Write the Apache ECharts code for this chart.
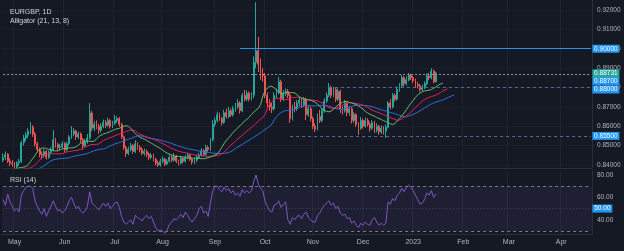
<!DOCTYPE html>
<html><head><meta charset="utf-8">
<script src="https://cdn.jsdelivr.net/npm/echarts@6/dist/echarts.min.js"></script>
<style>html,body{margin:0;padding:0;background:#151924;}#c{width:624px;height:251px;}</style>
</head><body><div id="c"></div>
<script>
// ---- data (prices in 1/10000 units) ----
const startDate = '2022-04-25';
const totalBars = 259;
const firstOpen = 8425;
const close = [8440,8455,8420,8410,8405,8390,8410,8420,8515,8540,
8555,8575,8595,8560,8510,8480,8455,8450,8470,8440,
8465,8480,8530,8505,8490,8495,8510,8480,8510,8545,
8560,8575,8545,8560,8530,8500,8520,8540,8668,8590,
8610,8600,8580,8600,8620,8605,8630,8600,8615,8630,
8640,8610,8545,8490,8460,8480,8500,8470,8510,8490,
8480,8460,8470,8455,8440,8450,8430,8410,8400,8420,
8430,8405,8420,8440,8425,8445,8420,8410,8435,8420,
8440,8450,8430,8415,8425,8440,8450,8475,8455,8490,
8480,8530,8610,8630,8660,8640,8620,8670,8650,8680,
8660,8690,8700,8720,8680,8760,8740,8770,8740,8760,
8930,8990,8920,8870,8860,8760,8720,8700,8690,8760,
8775,8830,8740,8770,8780,8760,8640,8700,8690,8720,
8735,8710,8740,8660,8690,8640,8600,8585,8650,8630,
8680,8730,8760,8800,8760,8790,8740,8780,8690,8680,
8720,8670,8690,8630,8660,8610,8590,8630,8600,8630,
8610,8590,8620,8580,8600,8570,8590,8575,8595,8720,
8700,8760,8740,8790,8810,8850,8820,8840,8865,8850,
8835,8815,8810,8790,8800,8820,8860,8850,8885,8830,
8873.1];
const high = [8460,8470,8462,8435,8425,8415,8420,8432,8525,8555,
8570,8590,8622,8605,8570,8520,8490,8470,8482,8478,
8475,8492,8580,8540,8515,8510,8522,8518,8520,8555,
8601,8590,8582,8572,8568,8540,8535,8560,8720,8680,
8625,8630,8612,8615,8635,8632,8645,8638,8628,8658,
8652,8648,8618,8552,8500,8495,8515,8508,8528,8518,
8502,8492,8485,8480,8465,8462,8458,8438,8422,8432,
8445,8438,8430,8455,8450,8462,8452,8428,8445,8442,
8452,8462,8458,8438,8435,8450,8462,8488,8482,8505,
8502,8540,8632,8645,8675,8670,8650,8685,8690,8700,
8692,8705,8720,8740,8730,8772,8787,8785,8780,8775,
8960,9240,9060,8950,8900,8875,8775,8740,8720,8775,
8795,8855,8840,8787,8795,8792,8770,8712,8725,8735,
8751,8745,8752,8748,8705,8700,8650,8615,8665,8684,
8692,8745,8775,8823,8810,8803,8798,8795,8788,8705,
8735,8728,8702,8698,8672,8668,8622,8648,8640,8645,
8642,8620,8632,8628,8615,8608,8605,8600,8610,8730,
8740,8772,8770,8805,8823,8865,8860,8858,8875,8872,
8860,8845,8830,8818,8815,8832,8872,8875,8900,8892,
8882];
const low = [8415,8425,8410,8395,8392,8382,8385,8398,8410,8500,
8525,8540,8560,8545,8495,8465,8440,8430,8438,8428,
8432,8455,8470,8490,8475,8478,8485,8465,8470,8500,
8535,8548,8530,8535,8515,8478,8490,8510,8530,8575,
8575,8585,8560,8568,8590,8592,8598,8588,8590,8605,
8618,8598,8535,8478,8441,8450,8470,8458,8462,8478,
8465,8450,8448,8440,8425,8430,8418,8398,8390,8392,
8410,8395,8398,8412,8415,8418,8410,8398,8402,8408,
8412,8430,8420,8402,8405,8415,8432,8442,8445,8448,
8470,8472,8522,8598,8620,8628,8605,8612,8640,8642,
8648,8650,8675,8690,8665,8672,8728,8730,8728,8732,
8745,8900,8880,8840,8830,8745,8700,8680,8668,8680,
8745,8765,8725,8730,8755,8745,8617,8630,8672,8680,
8705,8695,8700,8632,8648,8625,8585,8570,8578,8617,
8620,8670,8720,8750,8745,8750,8725,8730,8668,8660,
8670,8652,8655,8615,8618,8596,8555,8582,8588,8592,
8598,8572,8580,8565,8568,8555,8560,8558,8540,8588,
8688,8692,8728,8732,8778,8800,8805,8810,8832,8838,
8822,8800,8795,8778,8782,8792,8812,8838,8842,8822,
8825];
// off-screen bars before the visible range (used only to warm up the Alligator)
const warmupMedian = [8400,8430,8460,8450,8420,8380,8355,8350,8345,8350,8355,8335,8305,8290,8290,8300,8305,8320,8340,8400];
const rsi = [58,53,63,56,52,48,50,47,62,66,
69,70,70,68,57,52,48,45,50,43,
48,52,57,52,48,49,46,48,52,57,
60,55,50,52,48,46,48,52,65,55,
53,51,49,52,55,52,55,50,52,55,
56,51,43,38,36,38,40,36,44,42,
41,39,42,44,41,43,38,33,30,31,
30,28,31,36,38,41,40,42,45,42,
47,44,40,38,41,44,50,52,46,48,
43,55,66,70,70,67,65,69,66,68,
64,66,62,64,61,67,64,66,64,66,
74,80,72,68,66,56,52,48,47,53,
54,57,51,54,56,40,36,42,40,43,
44,41,45,47,42,40,38,38,44,46,
50,53,55,57,53,55,50,52,46,44,
45,41,42,37,39,35,33,37,35,38,
36,35,40,42,38,35,37,35,37,56,
54,59,57,62,64,68,65,69,71,69,
66,62,58,54,55,58,64,62,66,60,
63];
const priceTicks = [0.84,0.85,0.86,0.87,0.88,0.89,0.90,0.91,0.92];
const rsiTicks = [40,60,80];
const monthNames = ['Jan','Feb','Mar','Apr','May','Jun','Jul','Aug','Sep','Oct','Nov','Dec'];
const lastPrice = 0.88731;
// horizontal levels: [value, first bar index]
const levelSolid = [0.90, 104];
const levelDotted = [0.887, 0];
const levelDashed = [[0.88, 143], [0.855, 126]];

// ---- build ----
const cats = [];
{ const d = new Date(startDate + 'T00:00:00Z');
  while (cats.length < totalBars) { const wd = d.getUTCDay(); if (wd !== 0 && wd !== 6) cats.push(d.toISOString().slice(0,10)); d.setUTCDate(d.getUTCDate()+1); } }
const isMonthStart = i => i > 0 && cats[i].slice(5,7) !== cats[i-1].slice(5,7);
const monthLabel = i => { const m = +cats[i].slice(5,7); return m === 1 ? cats[i].slice(0,4) : monthNames[m-1]; };

const candles = close.map((c, i) => {
  const o = i === 0 ? firstOpen : close[i-1];
  return [o/1e4, c/1e4, low[i]/1e4, high[i]/1e4];
});
const median = warmupMedian.concat(close.map((c,i) => (high[i]+low[i])/2)).map(v => v/1e4);
function smma(src, len) {
  const out = []; let prev = null;
  for (let i = 0; i < src.length; i++) {
    if (i < len - 1) { out.push(null); continue; }
    if (prev === null) { let s = 0; for (let k = i-len+1; k <= i; k++) s += src[k]; prev = s/len; }
    else prev = (prev*(len-1) + src[i]) / len;
    out.push(prev);
  }
  return out;
}
const W = warmupMedian.length;
function alligator(len, shift) {
  const s = smma(median, len); const out = [];
  for (let i = 0; i < close.length + shift; i++) {
    const k = W + i - shift; const v = s[k];
    out.push(v == null ? '-' : v);
  }
  return out;
}
const jaw = alligator(21, 8), teeth = alligator(13, 5), lips = alligator(8, 3);

const FONT = 'Liberation Sans';
const axisTxt = '#b2b5be';
const last = cats[totalBars-1];
const hline = (v, from, style) => [{coord: [cats[from], v], lineStyle: style, label: {show: false}}, {coord: [last, v]}];
const tag = (v, txt, bg, w, dy) => ({coord: [last, v], symbol: 'rect', symbolSize: [w, 8], symbolOffset: [1.5 + w/2, dy || 0],
  itemStyle: {color: bg}, label: {show: true, position: 'inside', formatter: txt, color: '#fff', fontSize: 6.5, fontFamily: FONT}});

const chart = echarts.init(document.getElementById('c'), null, {renderer: 'canvas'});
chart.setOption({
  backgroundColor: '#151924',
  animation: false,
  title: [
    {text: 'EURGBP, 1D', left: 5, top: 4, textStyle: {color: '#d1d4dc', fontSize: 7, fontWeight: 'normal', fontFamily: FONT}},
    {text: 'Alligator (21, 13, 8)', left: 5, top: 13, textStyle: {color: '#d1d4dc', fontSize: 7, fontWeight: 'normal', fontFamily: FONT}},
    {text: 'RSI (14)', left: 5, top: 172, textStyle: {color: '#d1d4dc', fontSize: 7, fontWeight: 'normal', fontFamily: FONT}}
  ],
  grid: [
    {left: 2, right: 32, top: 0, height: 168},
    {left: 2, right: 32, top: 170, height: 64}
  ],
  xAxis: [
    {type: 'category', gridIndex: 0, data: cats, boundaryGap: true,
     axisLine: {show: true, lineStyle: {color: '#2a2e39'}}, axisTick: {show: false}, axisLabel: {show: false},
     splitLine: {show: true, interval: (i) => isMonthStart(i), lineStyle: {color: '#1f2331', width: 1}}},
    {type: 'category', gridIndex: 1, data: cats, boundaryGap: true,
     axisLine: {show: true, lineStyle: {color: '#2a2e39'}}, axisTick: {show: false},
     axisLabel: {show: true, interval: (i) => isMonthStart(i), formatter: (v, i) => monthLabel(i), color: axisTxt, fontSize: 7, fontFamily: FONT, margin: 5},
     splitLine: {show: true, interval: (i) => isMonthStart(i), lineStyle: {color: '#1f2331', width: 1}}}
  ],
  yAxis: [
    {type: 'value', gridIndex: 0, position: 'right', min: 0.838452, max: 0.925161, scale: true,
     axisLine: {show: true, lineStyle: {color: '#2a2e39'}},
     axisTick: {show: false, customValues: priceTicks},
     axisLabel: {customValues: priceTicks, formatter: v => v.toFixed(5), color: axisTxt, fontSize: 6.5, fontFamily: FONT, margin: 5},
     splitLine: {show: true, lineStyle: {color: '#1c202b'}}},
    {type: 'value', gridIndex: 1, position: 'right', min: 27.32, max: 84.46,
     axisLine: {show: true, lineStyle: {color: '#2a2e39'}},
     axisTick: {show: false, customValues: rsiTicks},
     axisLabel: {customValues: rsiTicks, formatter: v => v.toFixed(2), color: axisTxt, fontSize: 6.5, fontFamily: FONT, margin: 5},
     splitLine: {show: false}}
  ],
  series: [
    {type: 'candlestick', xAxisIndex: 0, yAxisIndex: 0, data: candles, barWidth: '60%', z: 2,
     itemStyle: {color: '#26a69a', color0: '#ef5350', borderColor: '#26a69a', borderColor0: '#ef5350', borderWidth: 1},
     markLine: {silent: true, symbol: ['none','none'], animation: false,
       data: [
         hline(levelSolid[0], levelSolid[1], {color: '#2196f3', type: 'solid', width: 1}),
         hline(levelDotted[0], levelDotted[1], {color: '#8d96a8', type: [2,2], width: 1}),
         ...levelDashed.map(l => hline(l[0], l[1], {color: '#4f6d9c', type: [3,3], width: 1}))
       ]},
     markPoint: {silent: true, animation: false,
       data: [
         tag(0.90, '0.90000', '#2196f3', 27, 0),
         tag(0.88, '0.88000', '#2196f3', 27, 2),
         tag(0.855, '0.85500', '#2196f3', 27, 0),
         tag(0.887, '0.88700', '#2196f3', 27, 7),
         tag(lastPrice, '0.88731', '#26a69a', 27, 0)
       ]}},
    {type: 'line', name: 'Jaw', xAxisIndex: 0, yAxisIndex: 0, data: jaw, showSymbol: false, z: 4, lineStyle: {color: '#2f6fe0', width: 1}, clip: true},
    {type: 'line', name: 'Teeth', xAxisIndex: 0, yAxisIndex: 0, data: teeth, showSymbol: false, z: 4, lineStyle: {color: '#e91e63', width: 1}, clip: true},
    {type: 'line', name: 'Lips', xAxisIndex: 0, yAxisIndex: 0, data: lips, showSymbol: false, z: 4, lineStyle: {color: '#66bb6a', width: 1}, clip: true},
    {type: 'line', name: 'RSI', xAxisIndex: 1, yAxisIndex: 1, data: rsi, showSymbol: false, z: 4, lineStyle: {color: '#7e57c2', width: 1}, clip: true,
     markArea: {silent: true, itemStyle: {color: 'rgba(126,87,194,0.10)'}, data: [[{yAxis: 30}, {yAxis: 70}]]},
     markLine: {silent: true, symbol: ['none','none'], animation: false,
       data: [
         hline(70, 0, {color: '#787b86', type: [3,3], width: 1}),
         hline(30, 0, {color: '#787b86', type: [3,3], width: 1}),
         hline(50, 0, {color: 'rgba(120,123,134,0.35)', type: [1,2], width: 1})
       ]},
     markPoint: {silent: true, animation: false, data: [tag(50, '50.00', '#2196f3', 20, 0)]}}
  ]
});
</script></body></html>
